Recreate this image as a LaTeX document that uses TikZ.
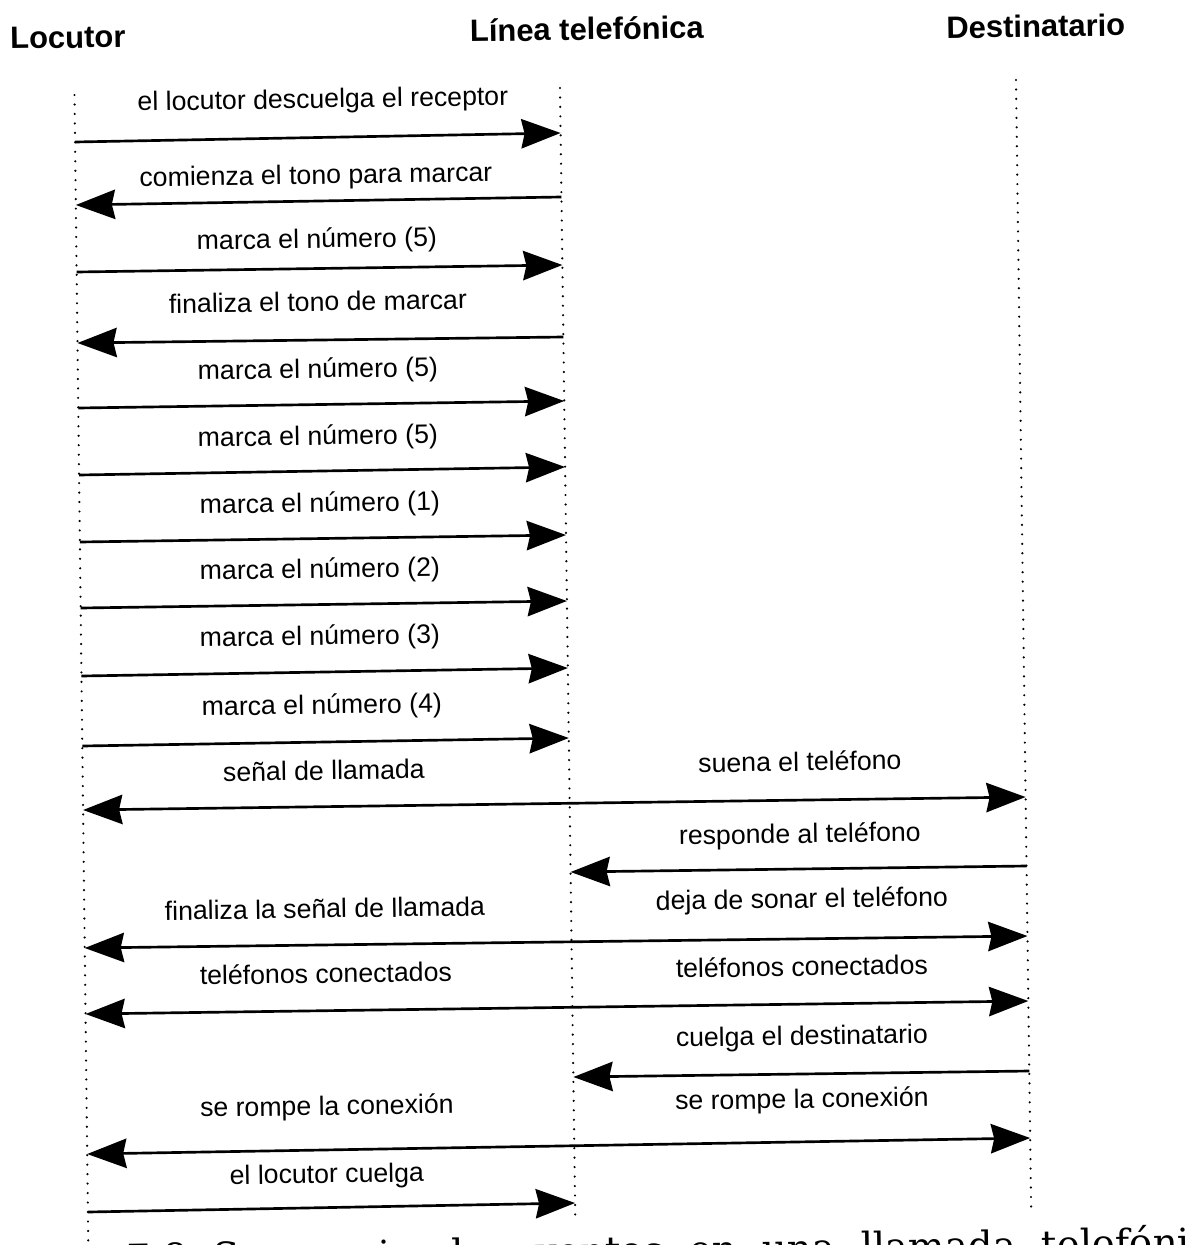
\documentclass[tikz,border=0pt]{standalone}
\usepackage{fontspec}
\setmainfont{Liberation Sans}
\newfontfamily\capfont{DejaVu Serif}
\usetikzlibrary{arrows.meta}
% x position of each lifeline as a function of y (pixel units, y downwards)
\newcommand\posL[1]{74.5+0.012*(#1-95)}
\newcommand\posM[1]{560+0.0135*(#1-88)}
\newcommand\posR[1]{1016+0.0134*(#1-80)}
\begin{document}
\begin{tikzpicture}[x=0.75pt,y=-0.75pt,
  lifeline/.style={line width=1.8pt, line cap=round, dash pattern=on 0pt off 7.1pt},
  tip/.tip={Stealth[length=29.5pt,width=22pt,inset=2.5pt]},
  msg/.style={line width=2pt, -tip},
  msgboth/.style={line width=2pt, tip-tip},
  lbl/.style={anchor=base, inner sep=0pt, rotate=0.86, font=\fontsize{20}{24}\selectfont},
  hdr/.style={anchor=base, inner sep=0pt, rotate=0.86, font=\fontsize{23.2}{28}\selectfont\bfseries}]
\useasboundingbox (0,0) rectangle (1187,1245);

% participants
\node[hdr] (hL) at (68,48) {Locutor};
\node[hdr] (hM) at (587,40) {Línea telefónica};
\node[hdr] (hR) at (1036,37) {Destinatario};

% lifelines
\coordinate (Ltop) at ({\posL{95}},95);
\coordinate (Lbot) at ({\posL{1243}},1243);
\coordinate (Mtop) at ({\posM{88}},88);
\coordinate (Mbot) at ({\posM{1220}},1220);
\coordinate (Rtop) at ({\posR{80}},80);
\coordinate (Rbot) at ({\posR{1213}},1213);
\draw[lifeline] (Ltop) -- (Lbot);
\draw[lifeline] (Mtop) -- (Mbot);
\draw[lifeline] (Rtop) -- (Rbot);

% message end points on the lifelines
\coordinate (m1a) at ({\posL{142}},142);  \coordinate (m1b) at ({\posM{133}},133);
\coordinate (m2a) at ({\posM{197}},197);  \coordinate (m2b) at ({\posL{205}},205);
\coordinate (m3a) at ({\posL{272}},272);  \coordinate (m3b) at ({\posM{265}},265);
\coordinate (m4a) at ({\posM{337}},337);  \coordinate (m4b) at ({\posL{343}},343);
\coordinate (m5a) at ({\posL{408}},408);  \coordinate (m5b) at ({\posM{401}},401);
\coordinate (m6a) at ({\posL{475}},475);  \coordinate (m6b) at ({\posM{467}},467);
\coordinate (m7a) at ({\posL{542}},542);  \coordinate (m7b) at ({\posM{535}},535);
\coordinate (m8a) at ({\posL{608}},608);  \coordinate (m8b) at ({\posM{601}},601);
\coordinate (m9a) at ({\posL{676}},676);  \coordinate (m9b) at ({\posM{668}},668);
\coordinate (m10a) at ({\posL{746}},746); \coordinate (m10b) at ({\posM{738}},738);
\coordinate (m11a) at ({\posL{810}},810); \coordinate (m11b) at ({\posR{797}},797);
\coordinate (m12a) at ({\posR{866}},866); \coordinate (m12b) at ({\posM{872}},872);
\coordinate (m13a) at ({\posL{948}},948); \coordinate (m13b) at ({\posR{936}},936);
\coordinate (m14a) at ({\posL{1014}},1014); \coordinate (m14b) at ({\posR{1001}},1001);
\coordinate (m15a) at ({\posR{1071}},1071); \coordinate (m15b) at ({\posM{1077}},1077);
\coordinate (m16a) at ({\posL{1154}},1154); \coordinate (m16b) at ({\posR{1138}},1138);
\coordinate (m17a) at ({\posL{1212}},1212); \coordinate (m17b) at ({\posM{1203}},1203);

% messages
\draw[msg] (m1a) -- (m1b);
\draw[msg] (m2a) -- (m2b);
\draw[msg] (m3a) -- (m3b);
\draw[msg] (m4a) -- (m4b);
\draw[msg] (m5a) -- (m5b);
\draw[msg] (m6a) -- (m6b);
\draw[msg] (m7a) -- (m7b);
\draw[msg] (m8a) -- (m8b);
\draw[msg] (m9a) -- (m9b);
\draw[msg] (m10a) -- (m10b);
\draw[msgboth] (m11a) -- (m11b);
\draw[msg] (m12a) -- (m12b);
\draw[msgboth] (m13a) -- (m13b);
\draw[msgboth] (m14a) -- (m14b);
\draw[msg] (m15a) -- (m15b);
\draw[msgboth] (m16a) -- (m16b);
\draw[msg] (m17a) -- (m17b);

% message labels
\node[lbl] (t1) at (323,108) {el locutor descuelga el receptor};
\node[lbl] (t2) at (316,184) {comienza el tono para marcar};
\node[lbl] (t3) at (317,248) {marca el número (5)};
\node[lbl] (t4) at (318,311) {finaliza el tono de marcar};
\node[lbl] (t5) at (318,378) {marca el número (5)};
\node[lbl] (t6) at (318,445) {marca el número (5)};
\node[lbl] (t7) at (320,512) {marca el número (1)};
\node[lbl] (t8) at (320,578) {marca el número (2)};
\node[lbl] (t9) at (320,645) {marca el número (3)};
\node[lbl] (t10) at (322,714) {marca el número (4)};
\node[lbl] (t11a) at (324,780) {señal de llamada};
\node[lbl] (t11b) at (800,771) {suena el teléfono};
\node[lbl] (t12) at (800,843) {responde al teléfono};
\node[lbl] (t13a) at (325,918) {finaliza la señal de llamada};
\node[lbl] (t13b) at (802,908) {deja de sonar el teléfono};
\node[lbl] (t14a) at (326,983) {teléfonos conectados};
\node[lbl] (t14b) at (802,976) {teléfonos conectados};
\node[lbl] (t15) at (802,1045) {cuelga el destinatario};
\node[lbl] (t16a) at (327,1115) {se rompe la conexión};
\node[lbl] (t16b) at (802,1108) {se rompe la conexión};
\node[lbl] (t17) at (327,1183) {el locutor cuelga};

% caption, cut by the lower edge of the page
\node[anchor=base west, inner sep=0pt, rotate=0.86,
      font=\capfont\fontsize{29}{34}\selectfont]
  (cap) at (126,1272) {\spaceskip=0.66em\relax 7.8 Secuencia de eventos en una llamada telefónica};
\end{tikzpicture}
\end{document}
